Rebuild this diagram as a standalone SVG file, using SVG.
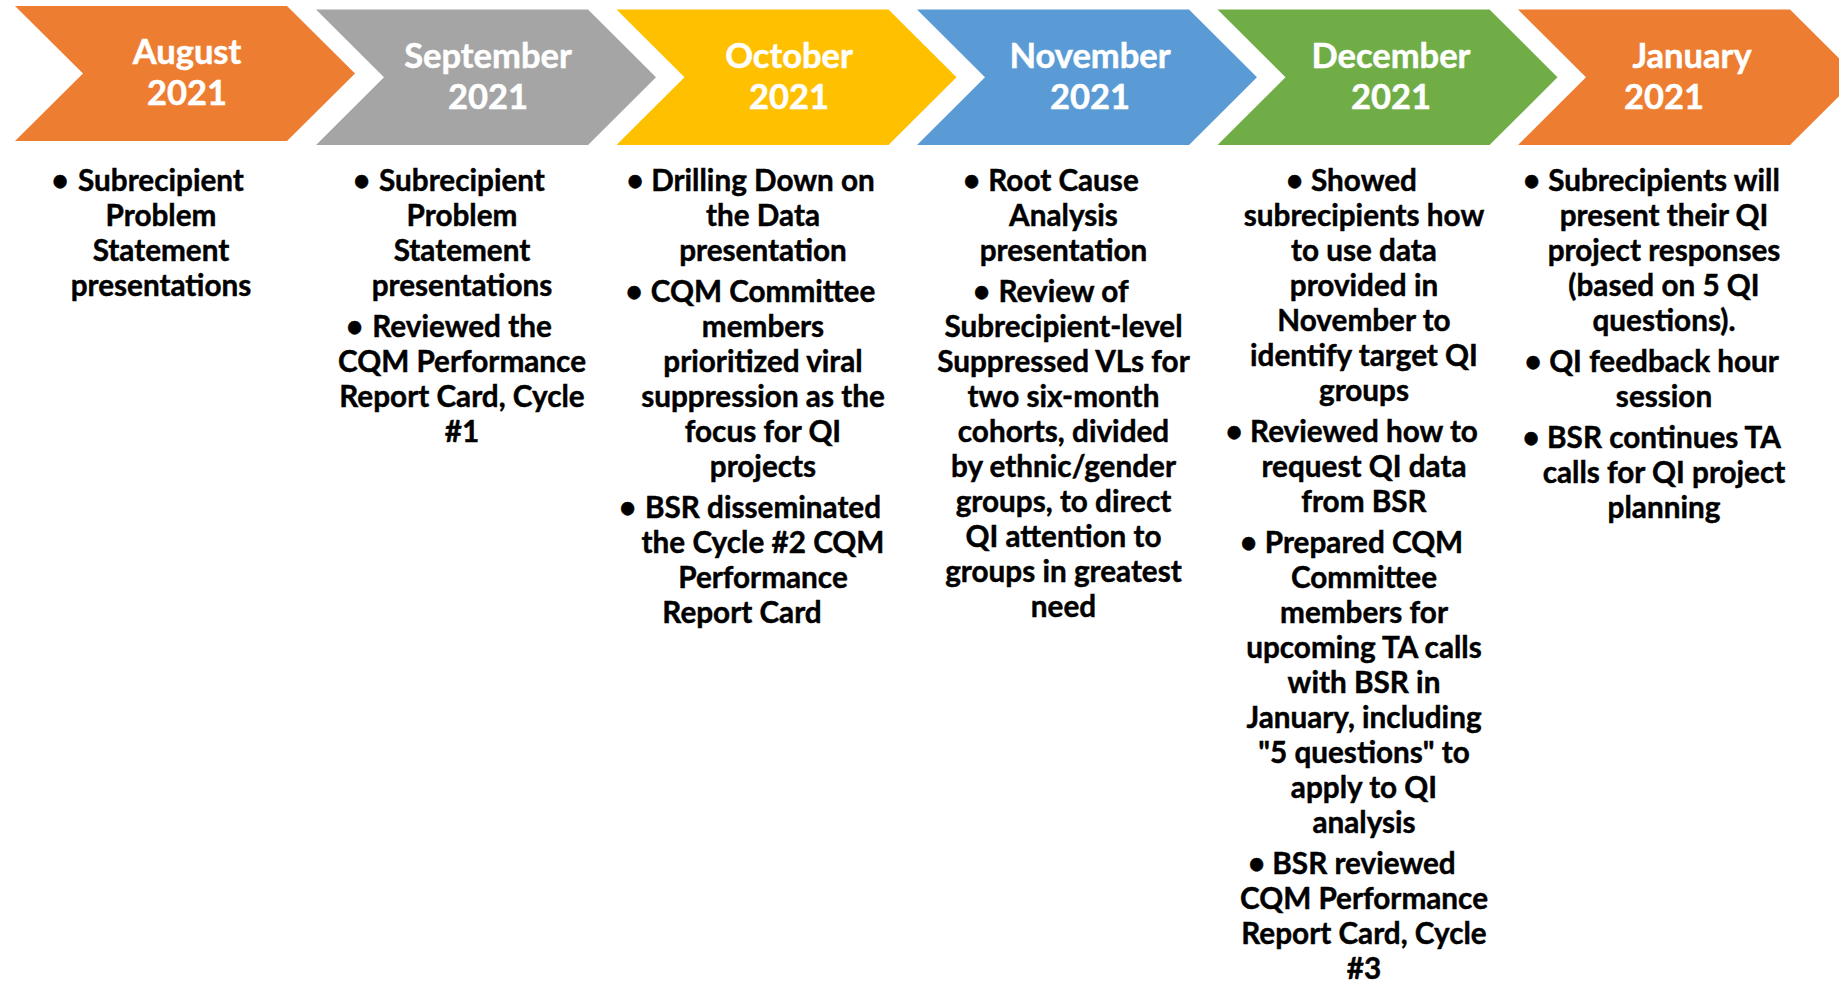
<svg xmlns="http://www.w3.org/2000/svg" width="1839" height="984" viewBox="0 0 1839 984">
<style>
.hd{font-family:Lato,"Liberation Sans",sans-serif;font-weight:700;font-size:34.5px;fill:#fff;stroke:#fff;stroke-width:0.5px;text-anchor:middle}
.tx{font-family:Lato,"Liberation Sans",sans-serif;font-weight:700;font-size:29.7px;fill:#000;stroke:#000;stroke-width:0.45px;text-anchor:middle}
.orange{fill:#ED7D31}.gray{fill:#A5A5A5}.gold{fill:#FFC000}.blue{fill:#5B9BD5}.green{fill:#70AD47}
</style>
<rect width="1839" height="984" fill="#fff"/>
<g id="connectors"></g>
<g id="aug">
<polygon class="orange" points="15,6 287,6 355,73.5 287,141 15,141 83,73.5"/>
<text class="hd" x="187" y="64">August</text>
<text class="hd" x="187" y="105">2021</text>
<text class="tx" x="60" y="190.5">•</text>
<text class="tx" x="161" y="190.5">Subrecipient</text>
<text class="tx" x="161" y="225.5">Problem</text>
<text class="tx" x="161" y="260.5">Statement</text>
<text class="tx" x="161" y="295.5">presentations</text>
</g>
<g id="sep">
<polygon class="gray" points="316,9.5 588,9.5 656,77.25 588,145 316,145 384,77.25"/>
<text class="hd" x="488" y="68">September</text>
<text class="hd" x="488" y="109">2021</text>
<text class="tx" x="361.5" y="190.5">•</text>
<text class="tx" x="462" y="190.5">Subrecipient</text>
<text class="tx" x="462" y="225.5">Problem</text>
<text class="tx" x="462" y="260.5">Statement</text>
<text class="tx" x="462" y="295.5">presentations</text>
<text class="tx" x="354.5" y="336.5">•</text>
<text class="tx" x="462" y="336.5">Reviewed the</text>
<text class="tx" x="462" y="371.5">CQM Performance</text>
<text class="tx" x="462" y="406.5">Report Card, Cycle</text>
<text class="tx" x="462" y="441.5">#1</text>
</g>
<g id="oct">
<polygon class="gold" points="616.5,9.5 888.5,9.5 956.5,77.25 888.5,145 616.5,145 684.5,77.25"/>
<text class="hd" x="789" y="68">October</text>
<text class="hd" x="789" y="109">2021</text>
<text class="tx" x="635" y="190.5">•</text>
<text class="tx" x="763" y="190.5">Drilling Down on</text>
<text class="tx" x="763" y="225.5">the Data</text>
<text class="tx" x="763" y="260.5">presentation</text>
<text class="tx" x="634" y="301.5">•</text>
<text class="tx" x="763" y="301.5">CQM Committee</text>
<text class="tx" x="763" y="336.5">members</text>
<text class="tx" x="763" y="371.5">prioritized viral</text>
<text class="tx" x="763" y="406.5">suppression as the</text>
<text class="tx" x="763" y="441.5">focus for QI</text>
<text class="tx" x="763" y="476.5">projects</text>
<text class="tx" x="627.5" y="517.5">•</text>
<text class="tx" x="763" y="517.5">BSR disseminated</text>
<text class="tx" x="763" y="552.5">the Cycle #2 CQM</text>
<text class="tx" x="763" y="587.5">Performance</text>
<text class="tx" x="742" y="622.5">Report Card</text>
</g>
<g id="nov">
<polygon class="blue" points="917,9.5 1189,9.5 1257,77.25 1189,145 917,145 985,77.25"/>
<text class="hd" x="1090" y="68">November</text>
<text class="hd" x="1090" y="109">2021</text>
<text class="tx" x="971.5" y="190.5">•</text>
<text class="tx" x="1063.5" y="190.5">Root Cause</text>
<text class="tx" x="1063.5" y="225.5">Analysis</text>
<text class="tx" x="1063.5" y="260.5">presentation</text>
<text class="tx" x="981.5" y="301.5">•</text>
<text class="tx" x="1063.5" y="301.5">Review of</text>
<text class="tx" x="1063.5" y="336.5">Subrecipient-level</text>
<text class="tx" x="1063.5" y="371.5">Suppressed VLs for</text>
<text class="tx" x="1063.5" y="406.5">two six-month</text>
<text class="tx" x="1063.5" y="441.5">cohorts, divided</text>
<text class="tx" x="1063.5" y="476.5">by ethnic/gender</text>
<text class="tx" x="1063.5" y="511.5">groups, to direct</text>
<text class="tx" x="1063.5" y="546.5">QI attention to</text>
<text class="tx" x="1063.5" y="581.5">groups in greatest</text>
<text class="tx" x="1063.5" y="616.5">need</text>
</g>
<g id="dec">
<polygon class="green" points="1217.5,9.5 1489.5,9.5 1557.5,77.25 1489.5,145 1217.5,145 1285.5,77.25"/>
<text class="hd" x="1391" y="68">December</text>
<text class="hd" x="1391" y="109">2021</text>
<text class="tx" x="1294.5" y="190.5">•</text>
<text class="tx" x="1364" y="190.5">Showed</text>
<text class="tx" x="1364" y="225.5">subrecipients how</text>
<text class="tx" x="1364" y="260.5">to use data</text>
<text class="tx" x="1364" y="295.5">provided in</text>
<text class="tx" x="1364" y="330.5">November to</text>
<text class="tx" x="1364" y="365.5">identify target QI</text>
<text class="tx" x="1364" y="400.5">groups</text>
<text class="tx" x="1234" y="441.5">•</text>
<text class="tx" x="1364" y="441.5">Reviewed how to</text>
<text class="tx" x="1364" y="476.5">request QI data</text>
<text class="tx" x="1364" y="511.5">from BSR</text>
<text class="tx" x="1248.5" y="552.5">•</text>
<text class="tx" x="1364" y="552.5">Prepared CQM</text>
<text class="tx" x="1364" y="587.5">Committee</text>
<text class="tx" x="1364" y="622.5">members for</text>
<text class="tx" x="1364" y="657.5">upcoming TA calls</text>
<text class="tx" x="1364" y="692.5">with BSR in</text>
<text class="tx" x="1364" y="727.5">January, including</text>
<text class="tx" x="1364" y="762.5">"5 questions" to</text>
<text class="tx" x="1364" y="797.5">apply to QI</text>
<text class="tx" x="1364" y="832.5">analysis</text>
<text class="tx" x="1256.5" y="873.5">•</text>
<text class="tx" x="1364" y="873.5">BSR reviewed</text>
<text class="tx" x="1364" y="908.5">CQM Performance</text>
<text class="tx" x="1364" y="943.5">Report Card, Cycle</text>
<text class="tx" x="1364" y="978.5">#3</text>
</g>
<g id="jan">
<polygon class="orange" points="1518,9.5 1790,9.5 1858,77.25 1790,145 1518,145 1586,77.25"/>
<text class="hd" x="1692" y="68">January</text>
<text class="hd" x="1664" y="109">2021</text>
<text class="tx" x="1531.5" y="190.5">•</text>
<text class="tx" x="1664" y="190.5">Subrecipients will</text>
<text class="tx" x="1664" y="225.5">present their QI</text>
<text class="tx" x="1664" y="260.5">project responses</text>
<text class="tx" x="1664" y="295.5">(based on 5 QI</text>
<text class="tx" x="1664" y="330.5">questions).</text>
<text class="tx" x="1533" y="371.5">•</text>
<text class="tx" x="1664" y="371.5">QI feedback hour</text>
<text class="tx" x="1664" y="406.5">session</text>
<text class="tx" x="1531" y="447.5">•</text>
<text class="tx" x="1664" y="447.5">BSR continues TA</text>
<text class="tx" x="1664" y="482.5">calls for QI project</text>
<text class="tx" x="1664" y="517.5">planning</text>
</g>
</svg>
